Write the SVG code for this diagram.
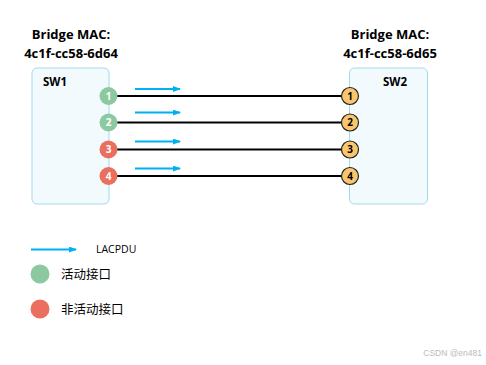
<svg xmlns="http://www.w3.org/2000/svg" width="486" height="365" viewBox="0 0 486 365">
<defs>
<marker id="ah" markerWidth="8" markerHeight="6" refX="7" refY="3" orient="auto" markerUnits="userSpaceOnUse">
<path d="M0,0 L8,3 L0,6 z" fill="#00B0F0"/>
</marker>
<style>
.box{fill:#F3FAFD;stroke:#A3D9F0;stroke-width:1}
.hdr{font-family:"Open Sans","Liberation Sans",sans-serif;font-weight:bold;font-size:13px;fill:#000;text-anchor:middle}
.sw{font-family:"Open Sans","Liberation Sans",sans-serif;font-weight:bold;font-size:11.5px;fill:#000}
.link{stroke:#000;stroke-width:2}
.pdu{stroke:#00B0F0;stroke-width:2;marker-end:url(#ah)}
.act{fill:#8DC9A0}
.inact{fill:#EA6F5F}
.peer{fill:#F9C66E;stroke:#222;stroke-width:1.2}
.pnw{font-family:"Open Sans","Liberation Sans",sans-serif;font-weight:bold;font-size:10px;fill:#fff;text-anchor:middle}
.pnb{font-family:"Open Sans","Liberation Sans",sans-serif;font-weight:bold;font-size:10px;fill:#000;text-anchor:middle}
.leg{font-family:"Noto Sans CJK SC","Open Sans",sans-serif;font-size:12.5px;fill:#000}
</style>
</defs>
<g id="sw1">
<rect class="box" x="32" y="68" width="77" height="136" rx="5"/>
<text class="hdr" x="71" y="39">Bridge MAC:</text>
<text class="hdr" x="71" y="58">4c1f-cc58-6d64</text>
<text class="sw" x="43" y="86">SW1</text>
</g>
<g id="sw2">
<rect class="box" x="349.5" y="68" width="78" height="136" rx="5"/>
<text class="hdr" x="390" y="39">Bridge MAC:</text>
<text class="hdr" x="390" y="58">4c1f-cc58-6d65</text>
<text class="sw" x="383" y="86">SW2</text>
</g>
<g id="connectors">
<line class="link" x1="117" y1="96" x2="341" y2="96"/>
<line class="link" x1="117" y1="122.5" x2="341" y2="122.5"/>
<line class="link" x1="117" y1="149.5" x2="341" y2="149.5"/>
<line class="link" x1="117" y1="176" x2="341" y2="176"/>
<line class="pdu" x1="135" y1="89" x2="180" y2="89"/>
<line class="pdu" x1="135" y1="112.5" x2="180" y2="112.5"/>
<line class="pdu" x1="135" y1="141.5" x2="180" y2="141.5"/>
<line class="pdu" x1="135" y1="168.5" x2="180" y2="168.5"/>
</g>
<g id="sw1-ports">
<circle class="act" cx="108.5" cy="96" r="9"/><text class="pnw" x="108.5" y="99.5">1</text>
<circle class="act" cx="108.5" cy="122.5" r="9"/><text class="pnw" x="108.5" y="126">2</text>
<circle class="inact" cx="108.5" cy="149.5" r="9"/><text class="pnw" x="108.5" y="153">3</text>
<circle class="inact" cx="108.5" cy="176" r="9"/><text class="pnw" x="108.5" y="179.5">4</text>
</g>
<g id="sw2-ports">
<circle class="peer" cx="350" cy="96" r="8.5"/><text class="pnb" x="350" y="99.5">1</text>
<circle class="peer" cx="350" cy="122.5" r="8.5"/><text class="pnb" x="350" y="126">2</text>
<circle class="peer" cx="350" cy="149.5" r="8.5"/><text class="pnb" x="350" y="153">3</text>
<circle class="peer" cx="350" cy="176" r="8.5"/><text class="pnb" x="350" y="179.5">4</text>
</g>
<g id="legend">
<line class="pdu" x1="31" y1="249.5" x2="76" y2="249.5"/>
<text x="96" y="253" font-family="'Open Sans','Liberation Sans',sans-serif" font-size="10.5" fill="#000">LACPDU</text>
<circle class="act" cx="40" cy="274" r="9.5"/>
<text class="leg" x="61" y="278.5">活动接口</text>
<circle class="inact" cx="40" cy="309" r="9.5"/>
<text class="leg" x="61" y="313.5">非活动接口</text>
</g>
<text x="482" y="356" text-anchor="end" font-family="'Liberation Sans',sans-serif" font-size="8.5" fill="#BBBBBB">CSDN @en481</text>
</svg>
